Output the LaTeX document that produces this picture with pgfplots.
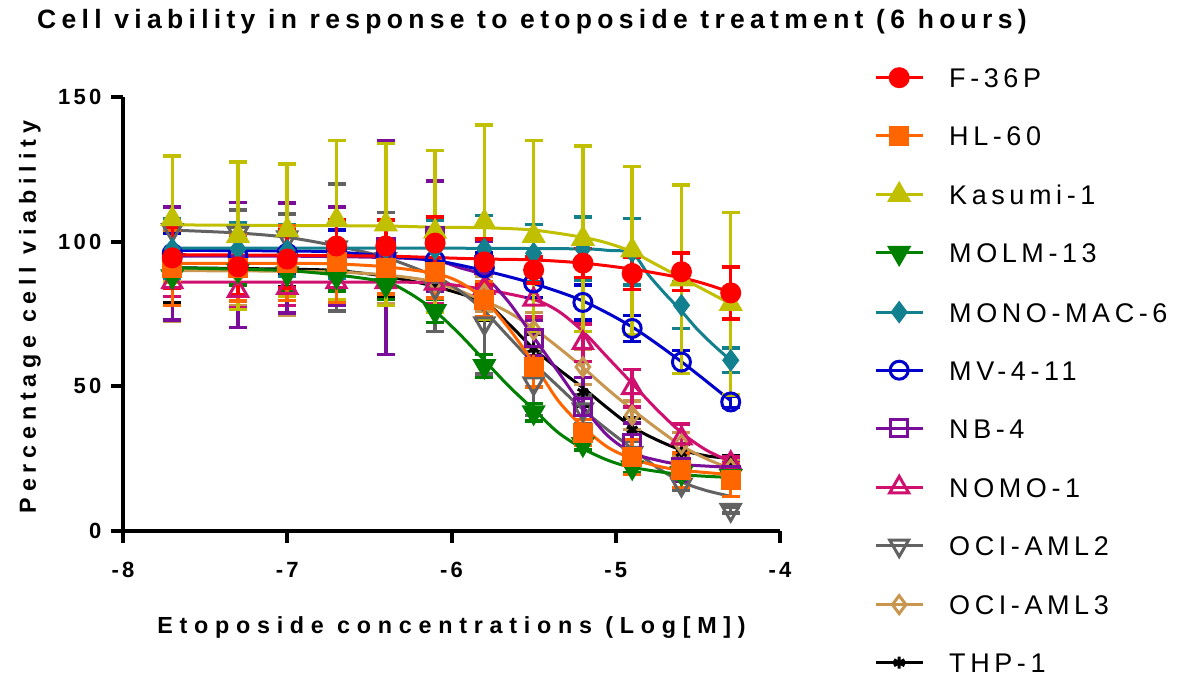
\documentclass[border=0pt]{standalone}
\usepackage{fontspec}
\setmainfont{Liberation Sans}
\newfontfamily\titlefont[LetterSpace=20]{Liberation Sans}
\newfontfamily\xlabfont[LetterSpace=29]{Liberation Sans}
\newfontfamily\ylabfont[LetterSpace=25]{Liberation Sans}
\newfontfamily\tickfont[LetterSpace=15]{Liberation Sans}
\newfontfamily\legfont[LetterSpace=17]{Liberation Sans}
\usepackage{pgfplots}
\pgfplotsset{compat=1.18}
\definecolor{cF}{HTML}{FF0000}
\definecolor{cH}{HTML}{FF6600}
\definecolor{cK}{HTML}{C0C000}
\definecolor{cM}{HTML}{008000}
\definecolor{cMM}{HTML}{13808F}
\definecolor{cMV}{HTML}{0000CC}
\definecolor{cNB}{HTML}{7A0E9A}
\definecolor{cNO}{HTML}{D0106E}
\definecolor{cO2}{HTML}{626262}
\definecolor{cO3}{HTML}{C8964F}
\definecolor{cT}{HTML}{000000}
\pgfplotsset{
  eb/.style={error bars/.cd, y dir=both, y explicit,
    error bar style={line width=3.5pt, #1},
    error mark options={rotate=90, mark size=9pt, line width=3.5pt, #1}},
  crv/.style={color=#1, line width=3pt, smooth, tension=0.5, no markers, forget plot},
}
\begin{document}
\begin{tikzpicture}
\path[use as bounding box] (-123pt,-150pt) rectangle (1065pt,531pt);
\begin{axis}[
  at={(0pt,0pt)}, anchor=south west,
  width=657pt, height=434pt, scale only axis,
  xmin=-8, xmax=-4, ymin=0, ymax=150,
  axis x line*=bottom, axis y line*=left,
  axis line style={-, line width=4pt},
  xtick={-8,-7,-6,-5,-4}, ytick={0,50,100,150},
  minor tick num=0,
  tick style={line width=4pt, black}, tick align=outside, major tick length=12pt,
  /pgf/number format/assume math mode=true,
  ticklabel style={font=\tickfont\bfseries\fontsize{22}{22}\selectfont},
  xticklabel style={yshift=-16pt},
  yticklabel style={xshift=-6pt},
  title={Cell viability in response to etoposide treatment (6 hours)},
  title style={at={(axis description cs:0.6225,1.16)}, anchor=center, yshift=0pt, font=\titlefont\bfseries\fontsize{26.5}{26.5}\selectfont},
  xlabel={Etoposide concentrations (Log[M])},
  xlabel style={at={(axis description cs:0.5,-0.2235)}, anchor=center, font=\xlabfont\bfseries\fontsize{23.3}{23.3}\selectfont},
  ylabel={Percentage cell viability},
  ylabel style={at={(axis description cs:-0.1416,0.493)}, anchor=center, font=\ylabfont\bfseries\fontsize{23.3}{23.3}\selectfont},
  clip=false,
  reverse legend,
  legend image code/.code={\draw[mark repeat=2,mark phase=2,#1,sharp plot] plot coordinates {(0pt,0pt) (23.5pt,0pt) (47pt,0pt)};},
  legend style={at={(axis description cs:1.1385,1.0726)}, anchor=north west, draw=none, fill=none,
    font=\legfont\fontsize{27}{27}\selectfont, row sep=38.1pt, column sep=25pt,
    nodes={inner sep=0pt, text height=20pt, text depth=0pt}},
  legend cell align=left,
]
% THP-1
\addplot[crv=cT] coordinates {(-7.7,91) (-7.0,90.5) (-6.7,90) (-6.4,88) (-6.1,84.5) (-5.8,79) (-5.65,71.5) (-5.5,63) (-5.35,56) (-5.2,49.5) (-5.05,42.5) (-4.9,36) (-4.75,31.5) (-4.6,28) (-4.45,26) (-4.3,25)};
\addplot[only marks, color=cT, line width=3pt, mark=asterisk, mark size=6pt, mark options={solid, line width=3pt}, eb=cT] coordinates {(-7.7,91) +- (0,12) (-7.3,90) +- (0,13) (-7.0,90.5) +- (0,6) (-6.7,90) +- (0,6) (-6.4,88) +- (0,7) (-6.1,85) +- (0,8) (-5.8,79) +- (0,6) (-5.5,63) +- (0,5) (-5.2,48) +- (0,5) (-4.9,35) +- (0,4) (-4.6,27) +- (0,3) (-4.3,24) +- (0,2)};
\addlegendentry{THP-1}
% OCI-AML3
\addplot[crv=cO3] coordinates {(-7.7,90) (-7.0,89.8) (-6.7,89.5) (-6.4,88.5) (-6.1,86) (-5.8,79.5) (-5.65,75.5) (-5.5,70) (-5.35,63.5) (-5.2,56.5) (-5.05,49) (-4.9,42) (-4.75,35.5) (-4.6,29.5) (-4.45,25) (-4.3,21.5)};
\addplot[only marks, color=cO3, line width=3pt, mark=diamond, mark size=9pt, mark options={solid, line width=3pt}, eb=cO3] coordinates {(-7.7,89.5) +- (0,17) (-7.3,89) +- (0,11) (-7.0,89.5) +- (0,15) (-6.7,89.5) +- (0,10) (-6.4,88.5) +- (0,10) (-6.1,86) +- (0,8) (-5.8,82) +- (0,6) (-5.5,69.5) +- (0,6) (-5.2,56.7) +- (0,6) (-4.9,40) +- (0,5) (-4.6,30) +- (0,4) (-4.3,21.5) +- (0,3)};
\addlegendentry{OCI-AML3}
% OCI-AML2
\addplot[crv=cO2] coordinates {(-7.7,104) (-7.3,103) (-7.0,101.5) (-6.7,98.5) (-6.4,94.5) (-6.1,88) (-5.95,83) (-5.8,76) (-5.65,67) (-5.5,58) (-5.35,50) (-5.2,42) (-5.05,35) (-4.9,28.5) (-4.75,22) (-4.6,17) (-4.45,14) (-4.3,12)};
\addplot[only marks, color=cO2, line width=3pt, mark=triangle, mark size=11pt, mark options={solid, line width=3pt, rotate=180}, eb=cO2] coordinates {(-7.7,104) +- (0,8) (-7.3,103) +- (0,8) (-7.0,101.5) +- (0,8) (-6.7,98) +- (0,22) (-6.4,94) +- (0,16) (-6.1,84) +- (0,15) (-5.8,71.8) +- (0,17.5) (-5.5,51) +- (0,11) (-5.2,42) +- (0,5) (-4.9,27) +- (0,4) (-4.6,16) +- (0,2) (-4.3,7.3) +- (0,1)};
\addlegendentry{OCI-AML2}
% NOMO-1
\addplot[crv=cNO] coordinates {(-7.7,86) (-7.0,86) (-6.4,86) (-6.1,85.7) (-5.8,83.5) (-5.5,80) (-5.35,76) (-5.2,69) (-5.05,60) (-4.9,51) (-4.75,42) (-4.6,34) (-4.45,28) (-4.3,24)};
\addplot[only marks, color=cNO, line width=3pt, mark=triangle, mark size=11pt, mark options={solid, line width=3pt}, eb=cNO] coordinates {(-7.7,86) +- (0,5) (-7.3,83) +- (0,6) (-7.0,84) +- (0,6) (-6.7,86) +- (0,6) (-6.4,86) +- (0,6) (-6.1,85.5) +- (0,7) (-5.8,84) +- (0,7) (-5.5,80) +- (0,6) (-5.2,65) +- (0,6.5) (-4.9,49.4) +- (0,6.5) (-4.6,32) +- (0,5) (-4.3,23.5) +- (0,2)};
\addlegendentry{NOMO-1}
% NB-4
\addplot[crv=cNB] coordinates {(-7.7,95) (-7.0,95) (-6.4,94.5) (-6.1,93.5) (-5.95,91) (-5.8,88) (-5.65,79) (-5.5,67) (-5.35,55) (-5.2,43) (-5.05,33) (-4.9,27) (-4.75,24.5) (-4.6,23) (-4.3,22)};
\addplot[only marks, color=cNB, line width=3pt, mark=square, mark size=8.5pt, mark options={solid, line width=3pt}, eb=cNB] coordinates {(-7.7,92.5) +- (0,19.5) (-7.3,92) +- (0,21.6) (-7.0,94.4) +- (0,19) (-6.7,95) +- (0,17) (-6.4,98) +- (0,37) (-6.1,102) +- (0,19) (-5.8,92) +- (0,8) (-5.5,66.7) +- (0,6) (-5.2,43) +- (0,10) (-4.9,30.4) +- (0,7) (-4.6,22.2) +- (0,5) (-4.3,19.5) +- (0,4)};
\addlegendentry{NB-4}
% MV-4-11
\addplot[crv=cMV] coordinates {(-7.7,97) (-7.0,96.8) (-6.7,96.4) (-6.4,95) (-6.1,93.5) (-5.8,90) (-5.5,85.5) (-5.2,79.5) (-4.9,70.5) (-4.6,58.5) (-4.3,45)};
\addplot[only marks, color=cMV, line width=3pt, mark=o, mark size=9pt, mark options={solid, line width=3pt}, eb=cMV] coordinates {(-7.7,96) +- (0,7) (-7.3,95) +- (0,7) (-7.0,96) +- (0,7) (-6.7,97) +- (0,7) (-6.4,95) +- (0,6) (-6.1,93.5) +- (0,6) (-5.8,91) +- (0,5) (-5.5,85.7) +- (0,5) (-5.2,79) +- (0,6) (-4.9,70) +- (0,4.5) (-4.6,58.4) +- (0,4) (-4.3,44.6) +- (0,2)};
\addlegendentry{MV-4-11}
% MONO-MAC-6
\addplot[crv=cMM] coordinates {(-7.7,97.8) (-7.0,97.8) (-6.4,97.8) (-5.8,97.7) (-5.2,97.5) (-5.05,97) (-4.9,96) (-4.8,88.5) (-4.7,82) (-4.6,76) (-4.5,69.5) (-4.4,64) (-4.3,59)};
\addplot[only marks, color=cMM, line width=3pt, mark=diamond*, mark size=9pt, mark options={solid, line width=3pt}, eb=cMM] coordinates {(-7.7,97.5) +- (0,10.5) (-7.3,97.5) +- (0,9) (-7.0,97) +- (0,9) (-6.7,97.5) +- (0,10) (-6.4,97.5) +- (0,10) (-6.1,97.5) +- (0,10) (-5.8,97.5) +- (0,11.5) (-5.5,96) +- (0,10) (-5.2,97.5) +- (0,11) (-4.9,96.5) +- (0,11.5) (-4.6,78) +- (0,8) (-4.3,59) +- (0,4.3)};
\addlegendentry{MONO-MAC-6}
% MOLM-13
\addplot[crv=cM] coordinates {(-7.7,91) (-7.3,90.5) (-7.0,90) (-6.7,88.5) (-6.4,86) (-6.25,82) (-6.1,76) (-5.95,68) (-5.8,59) (-5.65,50) (-5.5,42) (-5.35,34) (-5.2,28.5) (-5.05,24.5) (-4.9,22) (-4.6,19.5) (-4.3,18.5)};
\addplot[only marks, color=cM, line width=3pt, mark=triangle*, mark size=11pt, mark options={solid, line width=3pt, rotate=180}, eb=cM] coordinates {(-7.7,88) +- (0,4) (-7.3,90) +- (0,5) (-7.0,89) +- (0,6) (-6.7,88) +- (0,5) (-6.4,85) +- (0,5) (-6.1,76) +- (0,4) (-5.8,57) +- (0,4) (-5.5,41) +- (0,3) (-5.2,30) +- (0,2) (-4.9,22) +- (0,2) (-4.6,20) +- (0,2) (-4.3,19) +- (0,2)};
\addlegendentry{MOLM-13}
% Kasumi-1
\addplot[crv=cK] coordinates {(-7.7,105.8) (-7.0,105.6) (-6.4,105.4) (-6.1,105) (-5.8,104.8) (-5.5,104) (-5.2,101.5) (-5.05,99.5) (-4.9,96.5) (-4.75,92) (-4.6,87.5) (-4.45,83) (-4.3,78.5)};
\addplot[only marks, color=cK, line width=3pt, mark=triangle*, mark size=11pt, mark options={solid, line width=3pt}, eb=cK] coordinates {(-7.7,107.8) +- (0,21.8) (-7.3,102) +- (0,25.5) (-7.0,104) +- (0,22.8) (-6.7,107.5) +- (0,27.5) (-6.4,106) +- (0,28) (-6.1,103.5) +- (0,28) (-5.8,106.8) +- (0,33.5) (-5.5,102) +- (0,33) (-5.2,101) +- (0,32) (-4.9,97) +- (0,29) (-4.6,87) +- (0,32.5) (-4.3,78.5) +- (0,31.5)};
\addlegendentry{Kasumi-1}
% HL-60
\addplot[crv=cH] coordinates {(-7.7,92.5) (-7.0,92.5) (-6.7,92.3) (-6.4,91.3) (-6.1,89) (-5.95,86) (-5.8,80) (-5.65,70) (-5.5,58) (-5.35,45) (-5.2,36) (-5.05,29) (-4.9,25) (-4.75,22.5) (-4.6,21) (-4.3,19.5)};
\addplot[only marks, color=cH, line width=3pt, mark=square*, mark size=8.5pt, mark options={solid, line width=3pt}, eb=cH] coordinates {(-7.7,91) +- (0,13) (-7.3,91) +- (0,11.5) (-7.0,92.6) +- (0,13) (-6.7,93) +- (0,14) (-6.4,91) +- (0,9) (-6.1,89.6) +- (0,9) (-5.8,80) +- (0,6) (-5.5,56.7) +- (0,7) (-5.2,34) +- (0,4.5) (-4.9,25.6) +- (0,6) (-4.6,21) +- (0,6) (-4.3,17.6) +- (0,5.7)};
\addlegendentry{HL-60}
% F-36P
\addplot[crv=cF] coordinates {(-7.7,95.5) (-7.0,95.3) (-6.4,95) (-6.1,94.5) (-5.8,94) (-5.5,93.7) (-5.2,92.6) (-4.9,90.5) (-4.6,87.5) (-4.45,85.3) (-4.3,82.5)};
\addplot[only marks, color=cF, line width=3pt, mark=*, mark size=9pt, mark options={solid, line width=3pt}, eb=cF] coordinates {(-7.7,94.4) +- (0,10.5) (-7.3,91.3) +- (0,9.5) (-7.0,94) +- (0,10) (-6.7,98.5) +- (0,9) (-6.4,98.5) +- (0,9) (-6.1,99.5) +- (0,9) (-5.8,93) +- (0,8) (-5.5,90.2) +- (0,4.5) (-5.2,92.6) +- (0,5) (-4.9,89) +- (0,5.5) (-4.6,89.6) +- (0,6.5) (-4.3,82.3) +- (0,9)};
\addlegendentry{F-36P}
\end{axis}
\end{tikzpicture}
\end{document}
